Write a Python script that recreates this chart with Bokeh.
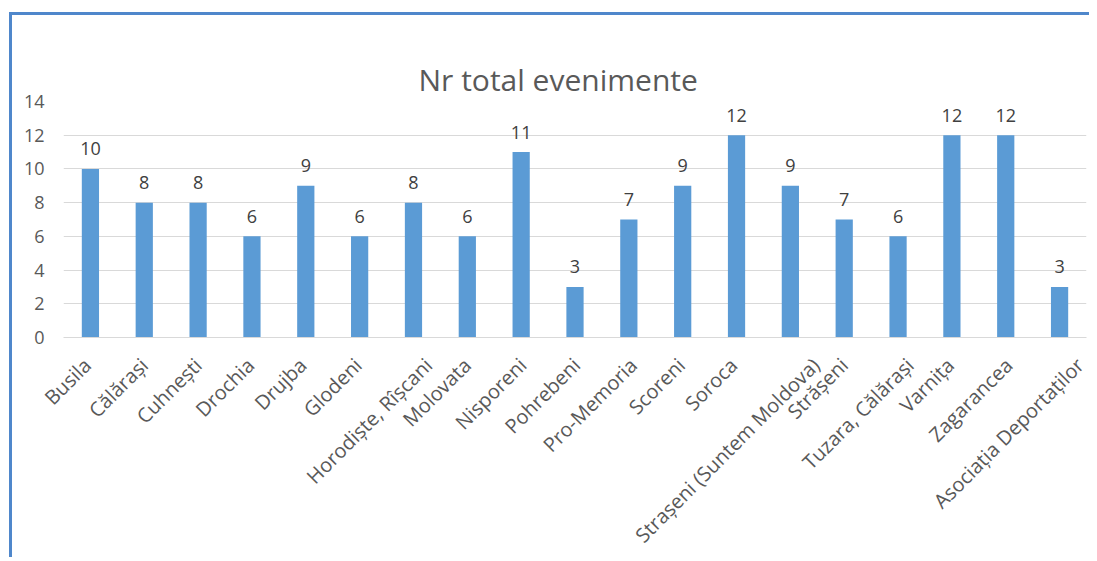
import math
from bokeh.plotting import figure
from bokeh.models import (ColumnDataSource, Range1d, FixedTicker, CustomJSTickFormatter,
                          LinearAxis)
from bokeh.core.properties import value
from bokeh.embed import file_html
from bokeh.resources import INLINE

categories = ["Busila", "Călărași", "Cuhnești", "Drochia", "Drujba", "Glodeni",
              "Horodiște, Rîșcani", "Molovata", "Nisporeni", "Pohrebeni",
              "Pro-Memoria", "Scoreni", "Soroca", "Strașeni (Suntem Moldova)",
              "Strășeni", "Tuzara, Călărași", "Varnița", "Zagarancea",
              "Asociația Deportaților"]
counts = [10, 8, 8, 6, 9, 6, 8, 6, 11, 3, 7, 9, 12, 9, 7, 6, 12, 12, 3]
y_ticks = [0, 2, 4, 6, 8, 10, 12, 14]
title_text = "Nr total evenimente"

FONT = "Open Sans"
BAR = "#5B9BD5"
GRID = "#D9D9D9"
TXT = "#595959"

W, H = 1080, 545
LEFT, RIGHT, TOP, BOTTOM = 51, 6, 86, 223
n = len(categories)
positions = list(range(n))
px_per_cat = (W - LEFT - RIGHT) / n
# Excel pushes longer rotated labels further right; mimic with a tick shift
label_pos = [i + (1.5 * len(c) - 12) / px_per_cat for i, c in zip(positions, categories)]

src = ColumnDataSource(dict(x=positions, cat=categories, val=counts,
                            lbl=[str(v) for v in counts]))

p = figure(x_range=Range1d(-0.5, n - 0.5),
           y_range=Range1d(0, 14),
           width=W, height=H,
           output_backend="svg", toolbar_location=None,
           min_border_left=LEFT, min_border_right=RIGHT,
           min_border_top=TOP, min_border_bottom=BOTTOM)

# bottom category axis (the one created by figure)
xa = p.below[0]
xa.ticker = FixedTicker(ticks=label_pos, minor_ticks=[])
xa.formatter = CustomJSTickFormatter(args=dict(names=categories),
                                     code="return names[index]")
xa.axis_line_color = GRID
xa.major_tick_line_color = None
xa.minor_tick_line_color = None
xa.major_tick_out = 0
xa.major_tick_in = 0
xa.major_label_orientation = math.pi / 4
xa.major_label_standoff = 24
xa.major_label_text_font = FONT
xa.major_label_text_font_size = "20px"
xa.major_label_text_color = TXT

# invisible spacer between the title and the plot area
spacer = LinearAxis(ticker=FixedTicker(ticks=[], minor_ticks=[]))
spacer.axis_line_color = None
spacer.major_tick_line_color = None
spacer.minor_tick_line_color = None
spacer.major_tick_in = 0
spacer.major_tick_out = 32
spacer.minor_tick_out = 0
spacer.major_label_standoff = 0
p.add_layout(spacer, "above")

p.title.text = title_text
p.title.align = "left"
p.title.offset = 355
p.title.standoff = 4
p.title.text_font = FONT
p.title.text_font_size = "30px"
p.title.text_font_style = "normal"
p.title.text_color = TXT

p.vbar(x="x", top="val", width=0.32, source=src, color=BAR, line_color=None)
p.text(x="x", y="val", text="lbl", source=src, text_align="center",
       text_baseline="alphabetic", y_offset=-20, text_font=value(FONT),
       text_font_size="18px", text_color="#404040")

p.outline_line_color = None
p.background_fill_color = "white"
p.border_fill_color = "white"

p.xgrid.grid_line_color = None
p.ygrid.grid_line_color = GRID
p.ygrid.grid_line_width = 1

p.yaxis.ticker = y_ticks
p.yaxis.axis_line_color = None
p.yaxis.major_tick_line_color = None
p.yaxis.minor_tick_line_color = None
p.yaxis.major_tick_out = 0
p.yaxis.major_tick_in = 0
p.yaxis.major_label_standoff = 19
p.yaxis.major_label_text_font = FONT
p.yaxis.major_label_text_font_size = "18px"
p.yaxis.major_label_text_color = TXT

p.margin = (12, 0, 0, 9)
p.styles = {"border-top": "3px solid #4F87CB", "border-left": "3px solid #4F87CB"}

open("out.html", "w").write(file_html(p, INLINE))
